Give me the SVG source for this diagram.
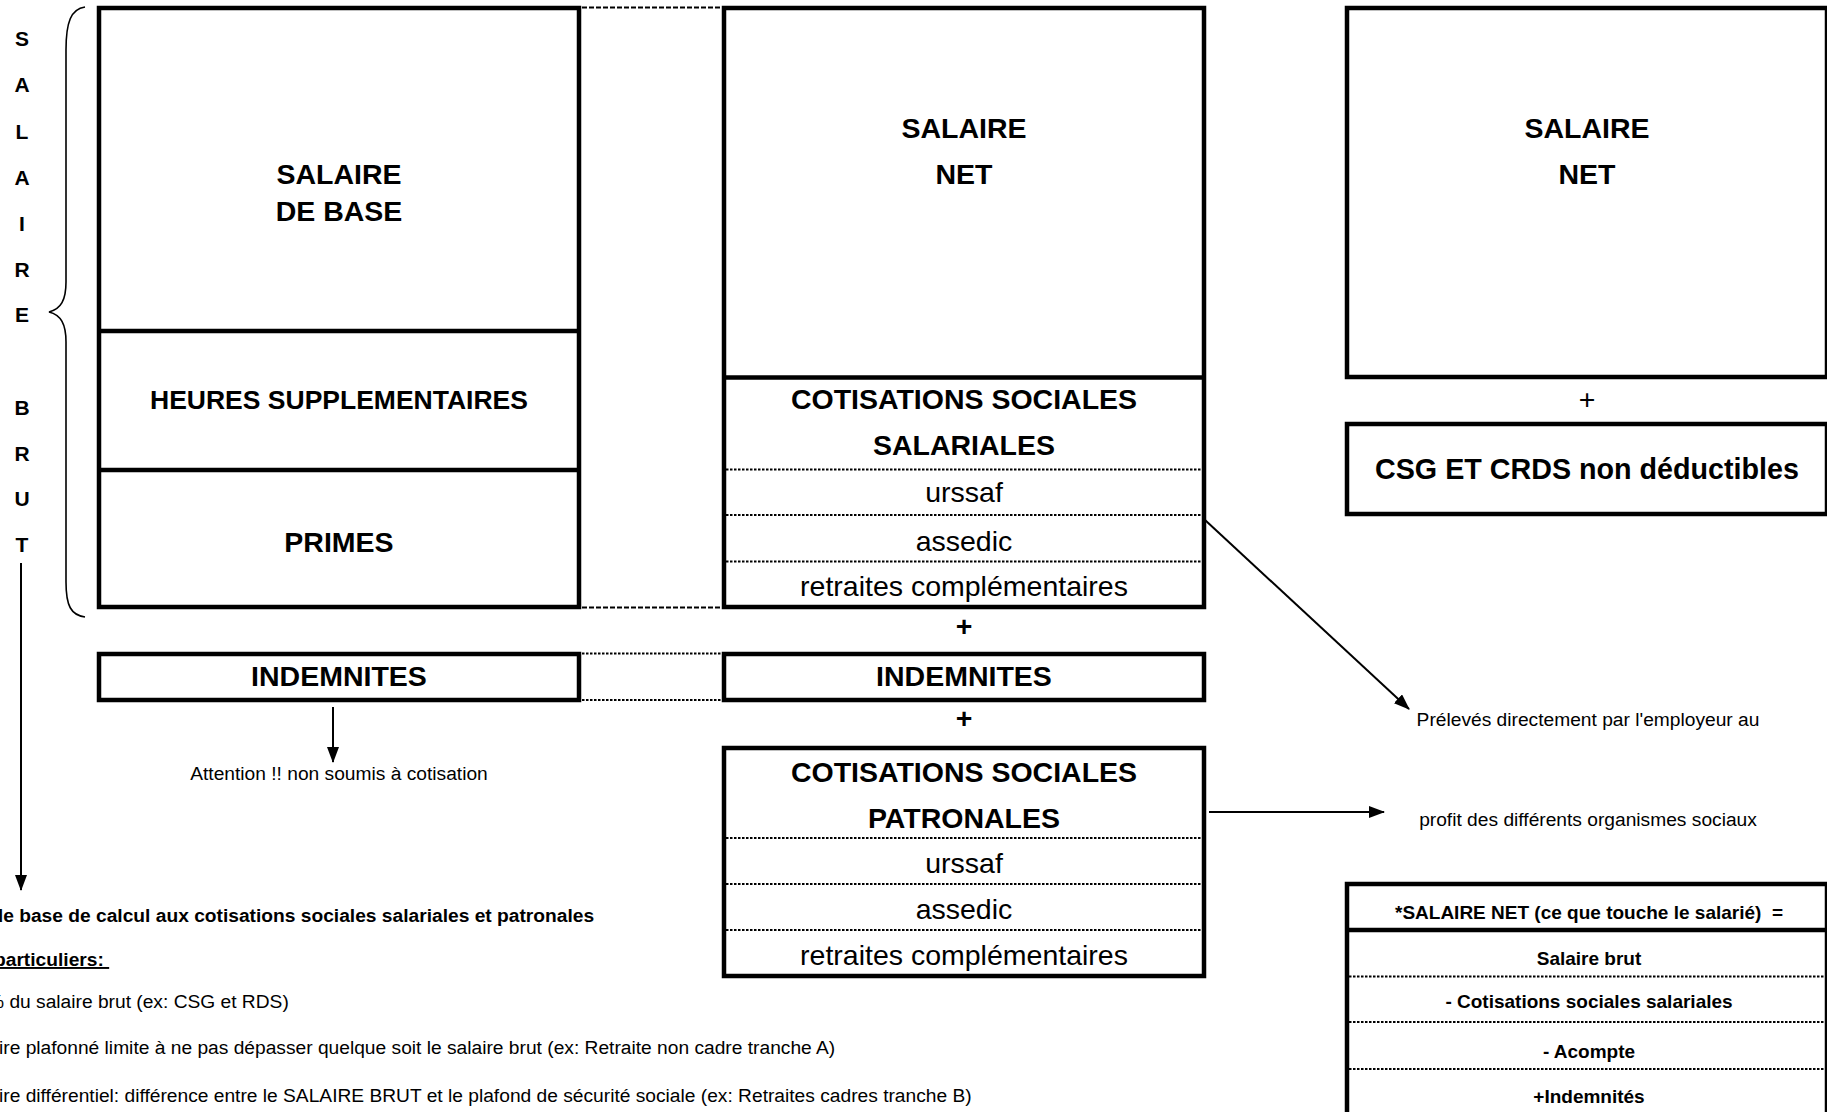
<svg xmlns="http://www.w3.org/2000/svg" width="1827" height="1112" viewBox="0 0 1827 1112">
<defs>
<style>
.box{fill:none;stroke:#000;stroke-width:4.5}
.sep{stroke:#000;stroke-width:4.5}
.dot{stroke:#000;stroke-width:2;stroke-dasharray:2.5 1.5}
.dash{stroke:#000;stroke-width:2;stroke-dasharray:5 2}
.arr{stroke:#000;stroke-width:2;fill:none;marker-end:url(#ah)}
text{font-family:"Liberation Sans",Arial,sans-serif;fill:#000}
.b{font-size:28.5px;font-weight:bold;text-anchor:middle}
.r{font-size:28.5px;text-anchor:middle}
.letter{font-size:21px;font-weight:bold;text-anchor:middle}
.s{font-size:19.2px}
.sb{font-size:19.2px;font-weight:bold}
.sm{font-size:19.2px;text-anchor:middle}
.smb{font-size:19px;font-weight:bold;text-anchor:middle}
</style>
<marker id="ah" markerUnits="userSpaceOnUse" markerWidth="16" markerHeight="12" refX="15" refY="6" orient="auto">
<path d="M0,0 L16,6 L0,12 z" fill="#000"/>
</marker>
</defs>
<rect width="1827" height="1112" fill="#fff"/>

<g id="salaire-brut-label">
<text class="letter" x="22" y="46">S</text>
<text class="letter" x="22" y="92">A</text>
<text class="letter" x="22" y="139">L</text>
<text class="letter" x="22" y="185">A</text>
<text class="letter" x="22" y="231">I</text>
<text class="letter" x="22" y="277">R</text>
<text class="letter" x="22" y="322">E</text>
<text class="letter" x="22" y="415">B</text>
<text class="letter" x="22" y="461">R</text>
<text class="letter" x="22" y="506">U</text>
<text class="letter" x="22" y="552">T</text>
<path d="M85 7 C71 9 66 22 66 50 L66 282 C66 300 61 309 49 312 C61 315 66 324 66 342 L66 582 C66 606 71 615 85 617" fill="none" stroke="#000" stroke-width="1.6"/>
</g>

<g id="brut-box">
<rect class="box" x="99" y="8" width="480" height="599"/>
<line class="sep" x1="99" y1="331" x2="579" y2="331"/>
<line class="sep" x1="99" y1="470" x2="579" y2="470"/>
<text class="b" x="339" y="184">SALAIRE</text>
<text class="b" x="339" y="221">DE BASE</text>
<text class="b" x="339" y="409" style="font-size:26.5px">HEURES SUPPLEMENTAIRES</text>
<text class="b" x="339" y="552">PRIMES</text>
</g>

<g id="net-box">
<rect class="box" x="724" y="8" width="480" height="599"/>
<line class="sep" x1="724" y1="377.5" x2="1204" y2="377.5"/>
<text class="b" x="964" y="138">SALAIRE</text>
<text class="b" x="964" y="184">NET</text>
<text class="b" x="964" y="409">COTISATIONS SOCIALES</text>
<text class="b" x="964" y="455">SALARIALES</text>
<line class="dot" x1="726" y1="469.5" x2="1202" y2="469.5"/>
<text class="r" x="964" y="501.5">urssaf</text>
<line class="dot" x1="726" y1="515" x2="1202" y2="515"/>
<text class="r" x="964" y="551">assedic</text>
<line class="dot" x1="726" y1="561.5" x2="1202" y2="561.5"/>
<text class="r" x="964" y="596">retraites complémentaires</text>
</g>

<g id="plus-1"><text class="b" x="964" y="636">+</text></g>

<g id="indemnites-left">
<rect class="box" x="99" y="654" width="480" height="46"/>
<text class="b" x="339" y="686">INDEMNITES</text>
</g>

<g id="indemnites-right">
<rect class="box" x="724" y="654" width="480" height="46"/>
<text class="b" x="964" y="686">INDEMNITES</text>
</g>

<g id="plus-2"><text class="b" x="964" y="727.5">+</text></g>

<g id="patronales-box">
<rect class="box" x="724" y="748" width="480" height="228"/>
<text class="b" x="964" y="782">COTISATIONS SOCIALES</text>
<text class="b" x="964" y="828">PATRONALES</text>
<line class="dot" x1="726" y1="838" x2="1202" y2="838"/>
<text class="r" x="964" y="873">urssaf</text>
<line class="dot" x1="726" y1="884" x2="1202" y2="884"/>
<text class="r" x="964" y="919">assedic</text>
<line class="dot" x1="726" y1="930" x2="1202" y2="930"/>
<text class="r" x="964" y="965">retraites complémentaires</text>
</g>

<g id="net-right">
<rect class="box" x="1347" y="8" width="480" height="369"/>
<text class="b" x="1587" y="138">SALAIRE</text>
<text class="b" x="1587" y="184">NET</text>
</g>

<g id="plus-3"><text class="r" x="1587" y="409">+</text></g>

<g id="csg-box">
<rect class="box" x="1347" y="424" width="480" height="90"/>
<text class="b" x="1587" y="479" style="font-size:28.7px">CSG ET CRDS non déductibles</text>
</g>

<g id="note-prelevement">
<text class="sm" x="1588" y="726">Prélevés directement par l'employeur au</text>
<text class="sm" x="1588" y="826">profit des différents organismes sociaux</text>
</g>

<g id="note-attention">
<text class="sm" x="339" y="780">Attention !! non soumis à cotisation</text>
</g>

<g id="formula-table">
<path d="M1347 1120 L1347 884 L1827 884 L1827 1120" fill="none" stroke="#000" stroke-width="4.5"/>
<line class="sep" x1="1347" y1="930" x2="1827" y2="930"/>
<text xml:space="preserve" class="smb" x="1589" y="919">*SALAIRE NET (ce que touche le salarié)  =</text>
<text class="smb" x="1589" y="965">Salaire brut</text>
<line class="dot" x1="1349" y1="976.5" x2="1827" y2="976.5"/>
<text class="smb" x="1589" y="1008">- Cotisations sociales salariales</text>
<line class="dot" x1="1349" y1="1022" x2="1827" y2="1022"/>
<text class="smb" x="1589" y="1058">- Acompte</text>
<line class="dot" x1="1349" y1="1069" x2="1827" y2="1069"/>
<text class="smb" x="1589" y="1103">+Indemnités</text>
</g>

<g id="notes-bottom">
<text class="sb" x="-8.5" y="922">de base de calcul aux cotisations sociales salariales et patronales</text>
<text xml:space="preserve" class="sb" x="-6" y="966" text-decoration="underline">particuliers: </text>
<text class="s" x="-13" y="1008">% du salaire brut (ex: CSG et RDS)</text>
<text class="s" x="-1" y="1054">ire plafonné limite à ne pas dépasser quelque soit le salaire brut (ex: Retraite non cadre tranche A)</text>
<text class="s" x="-1" y="1102">ire différentiel: différence entre le SALAIRE BRUT et le plafond de sécurité sociale (ex: Retraites cadres tranche B)</text>
</g>

<g id="connectors">
<line class="dash" x1="582" y1="7.5" x2="722" y2="7.5"/>
<line class="dash" x1="582" y1="607.5" x2="722" y2="607.5"/>
<line class="dot" x1="582" y1="653.5" x2="722" y2="653.5"/>
<line class="dot" x1="582" y1="700" x2="722" y2="700"/>
<line class="arr" x1="21" y1="563" x2="21" y2="890"/>
<line class="arr" x1="333" y1="707" x2="333" y2="762"/>
<line class="arr" x1="1205" y1="520" x2="1409" y2="709"/>
<line class="arr" x1="1209" y1="812" x2="1384" y2="812"/>
</g>
</svg>
